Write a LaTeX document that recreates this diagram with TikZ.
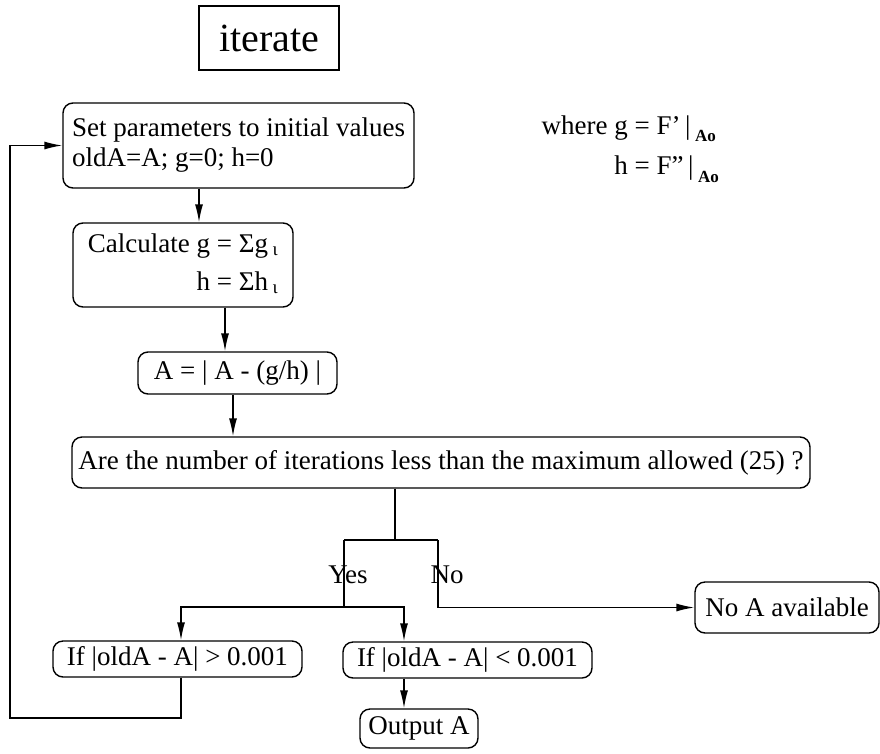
\documentclass[tikz,border=0pt]{standalone}
\usepackage{fontspec}
\setmainfont{Liberation Serif}
\usepackage{tikz}
\usetikzlibrary{arrows.meta, positioning, calc}

\begin{document}
\begin{tikzpicture}[
    x=1pt, y=-1pt, line width=1.4pt,
    box/.style={rectangle, rounded corners=10pt, draw, inner sep=2pt, font=\fontsize{27}{30}\selectfont},
    titlebox/.style={rectangle, draw, line width=2.8pt, minimum width=140pt, minimum height=64pt, font=\fontsize{40}{44}\selectfont},
    lbl/.style={font=\fontsize{27}{30}\selectfont, inner sep=0pt},
    arr/.style={-{Latex[length=18pt,width=8pt]}}
]
\useasboundingbox (0,0) rectangle (880,753);

% Title
\node[titlebox] (title) at (269,38) {iterate};

% Boxes
\node[box, minimum width=351pt, minimum height=85pt, align=left] (init) at (238.5,145.5) {Set parameters to initial values\\oldA=A; g=0; h=0};
\node[box, minimum width=220pt, minimum height=84pt] (calc) at (183,265) {\begin{tabular}{@{}r@{ }l@{}}Calculate g & = Σg\,\textsubscript{ι}\\[8pt] h & = Σh\,\textsubscript{ι}\end{tabular}};
\node[box, minimum width=199pt, minimum height=42pt] (absval) at (237.5,373) {A = | A - (g/h) |};
\node[box, minimum width=738pt, minimum height=51pt] (q) at (441,462.5) {Are the number of iterations less than the maximum allowed (25) ?};
\node[box, minimum width=184pt, minimum height=51pt] (noa) at (787,607.5) {No A available};
\node[box, minimum width=249pt, minimum height=36pt] (gt) at (177.5,659) {If |oldA - A| > 0.001};
\node[box, minimum width=249pt, minimum height=36pt] (lt) at (467.5,660) {If |oldA - A| < 0.001};
\node[box, minimum width=118pt, minimum height=39pt] (outa) at (419,728.5) {Output A};

% Labels
\node[lbl] (yes) at (348,575) {Yes};
\node[lbl] (no) at (447,575) {No};
\node[lbl, anchor=west] (where) at (541,148) {\begin{tabular}{@{}r@{ }l@{}}where g & = F'\,|\,\raisebox{-7pt}{\fontsize{17}{17}\selectfont\bfseries Ao}\\[10pt] h & = F''\,|\,\raisebox{-8pt}{\fontsize{17}{17}\selectfont\bfseries Ao}\end{tabular}};

% Branch points
\coordinate (split) at (395,540);
\coordinate (yl) at (344,540);
\coordinate (nl) at (438,540);
\coordinate (yb) at (344,607);
\coordinate (loopc) at (10,718);

% Connections
\draw[arr] ([xshift=-39.5pt]init.south) -- ([xshift=-39.5pt]init.south |- calc.north);
\draw[arr] ([xshift=42pt]calc.south) -- ([xshift=42pt]calc.south |- absval.north);
\draw[arr] ([xshift=-4.5pt]absval.south) -- ([xshift=-4.5pt]absval.south |- q.north);
\draw (q.south -| split) -- (split);
\draw (yl) -- (nl);
\draw (yl) -- (yb);
\draw[arr] (nl) |- (noa.west);
\draw[arr] (yb) -| ([xshift=3.5pt]gt.north);
\draw[arr] (yb) -| ([xshift=-63.5pt]lt.north);
\draw[arr] ([xshift=-63.5pt]lt.south) -- ([xshift=-63.5pt]lt.south |- outa.north);
\draw[arr] ([xshift=3.5pt]gt.south) |- (loopc) |- (init.west);

\end{tikzpicture}
\end{document}
